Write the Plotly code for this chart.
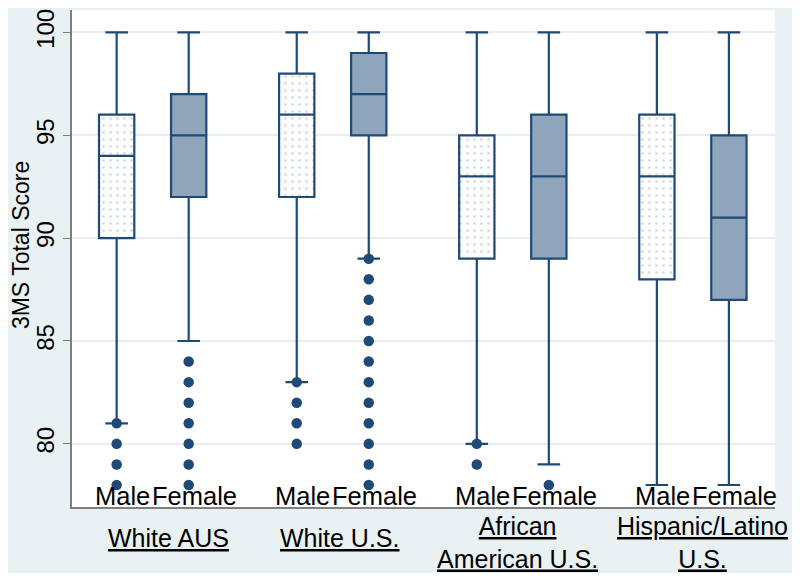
import plotly.graph_objects as go

groups = ["White AUS", "White U.S.", "African<br>American U.S.", "Hispanic/Latino<br>U.S."]
sexes = ["Male", "Female"]

# Male boxes (per group)
male_q1 = [90, 92, 89, 88]
male_med = [94, 96, 93, 93]
male_q3 = [96, 98, 95, 96]
male_low = [81, 83, 80, 78]
male_up = [100, 100, 100, 100]
male_out = [[81, 80, 79, 78], [83, 82, 81, 80], [80, 79], []]

# Female boxes (per group)
female_q1 = [92, 95, 89, 87]
female_med = [95, 97, 93, 91]
female_q3 = [97, 99, 96, 95]
female_low = [85, 89, 79, 78]
female_up = [100, 100, 100, 100]
female_out = [[84, 83, 82, 81, 80, 79, 78],
              [89, 88, 87, 86, 85, 84, 83, 82, 81, 80, 79, 78],
              [78], []]

y_ticks = [80, 85, 90, 95, 100]

male_x = [0, 2.5, 5, 7.5]
female_x = [1, 3.5, 6, 8.5]

DARK = "#1f4a78"
FILL = "#8fa5bb"
FONT = "Liberation Sans, Arial, sans-serif"
BW = 0.49

fig = go.Figure()

# dotted fill for male boxes
fig.add_trace(go.Bar(
    x=male_x, y=[b - a for a, b in zip(male_q1, male_q3)], base=male_q1,
    width=BW, marker=dict(color="white", line=dict(width=0),
                          pattern=dict(shape=".", fgcolor="#9fb3c8", bgcolor="white",
                                       size=7, solidity=0.12)),
    hoverinfo="skip", showlegend=False))

fig.add_trace(go.Box(
    x=male_x, q1=male_q1, median=male_med, q3=male_q3,
    lowerfence=male_low, upperfence=male_up,
    width=BW, whiskerwidth=0.64, boxpoints=False,
    fillcolor="rgba(0,0,0,0)", line=dict(color=DARK, width=2.2),
    showlegend=False, hoverinfo="skip"))

fig.add_trace(go.Box(
    x=female_x, q1=female_q1, median=female_med, q3=female_q3,
    lowerfence=female_low, upperfence=female_up,
    width=BW, whiskerwidth=0.64, boxpoints=False,
    fillcolor=FILL, line=dict(color=DARK, width=2.2),
    showlegend=False, hoverinfo="skip"))

ox, oy = [], []
for xs, outs in ((male_x, male_out), (female_x, female_out)):
    for xv, vals in zip(xs, outs):
        for v in vals:
            ox.append(xv)
            oy.append(v)
fig.add_trace(go.Scatter(x=ox, y=oy, mode="markers",
                         marker=dict(color=DARK, size=10.5),
                         showlegend=False, hoverinfo="skip"))

annotations = []
for xs, name in ((male_x, sexes[0]), (female_x, sexes[1])):
    for xv in xs:
        annotations.append(dict(x=xv + 0.08, y=0.022, xref="x", yref="paper",
                                text=name, showarrow=False, yanchor="middle",
                                xanchor="center",
                                font=dict(size=25.5, color="black", family=FONT)))
group_x = [0.72, 3.09, 5.57, 8.14]
group_y = [-0.0624, -0.0624, -0.0724, -0.0724]
for gx, gy, g in zip(group_x, group_y, groups):
    txt = "<br>".join("<u>" + p + "</u>" for p in g.split("<br>"))
    annotations.append(dict(x=gx, y=gy, xref="x", yref="paper", text=txt,
                            showarrow=False, yanchor="middle", xanchor="center",
                            font=dict(size=25, color="black", family=FONT)))
annotations.append(dict(x=-0.0725, y=0.527, xref="paper", yref="paper",
                        text="3MS Total Score", textangle=-90, showarrow=False,
                        xanchor="center", yanchor="middle", borderpad=0,
                        font=dict(size=23, color="black", family=FONT)))

shapes = [
    dict(type="rect", xref="paper", yref="paper", x0=-0.0953, x1=1.0284,
         y0=-0.1328, y1=1.0101, fillcolor="#eaf1f3", line=dict(width=0), layer="below"),
    dict(type="rect", xref="paper", yref="paper", x0=0, x1=1, y0=0, y1=1,
         fillcolor="white", line=dict(width=0), layer="below"),
]

fig.update_layout(
    width=792, height=571,
    margin=dict(l=64, r=25, t=2, b=72),
    paper_bgcolor="white", plot_bgcolor="white",
    barmode="overlay", boxmode="overlay",
    annotations=annotations, shapes=shapes,
    font=dict(family=FONT, size=24, color="black"),
    xaxis=dict(range=[-0.62, 9.14], showticklabels=False, showgrid=False,
               zeroline=False, showline=True, linecolor="#7f7f7f", linewidth=1.5,
               ticks=""),
    yaxis=dict(range=[76.93, 101.09], tickvals=y_ticks, tickangle=-90,
               showgrid=True, gridcolor="#e6eef1", gridwidth=1.5, zeroline=False,
               showline=True, linecolor="#7f7f7f", linewidth=1.5,
               ticks="outside", ticklen=7, tickcolor="#7f7f7f",
               tickfont=dict(size=24, color="black", family=FONT)),
)

fig.write_html("out.html")
